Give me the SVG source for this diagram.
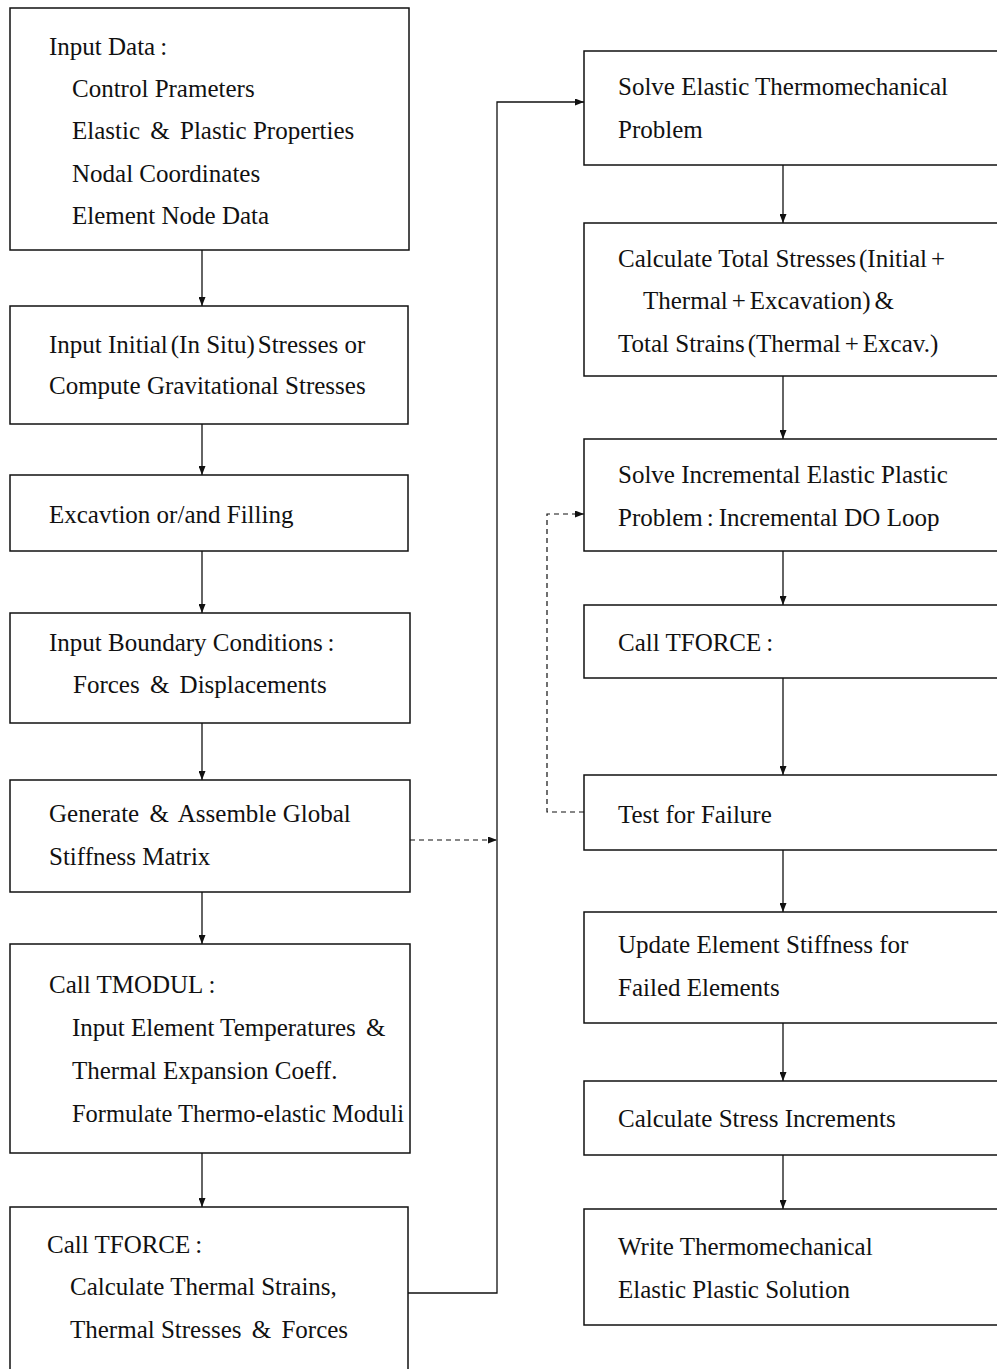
<svg xmlns="http://www.w3.org/2000/svg" width="997" height="1369" viewBox="0 0 997 1369">
<style>
.box{fill:#fff;stroke:#111;stroke-width:1.5}
.t{font-family:"Liberation Serif",serif;font-size:25px;fill:#111}
.c{fill:none;stroke:#111;stroke-width:1.3}
.d{fill:none;stroke:#111;stroke-width:1.2;stroke-dasharray:5,4}
</style>
<defs>
<marker id="ah" markerUnits="userSpaceOnUse" markerWidth="9" markerHeight="7" refX="9" refY="3.5" orient="auto">
<path d="M0,0 L9,3.5 L0,7 z" fill="#111"/>
</marker>
</defs>
<rect width="997" height="1369" fill="#fff"/>
<g id="connectors">
<line class="c" x1="202" y1="250" x2="202" y2="306" marker-end="url(#ah)"/>
<line class="c" x1="202" y1="424" x2="202" y2="475" marker-end="url(#ah)"/>
<line class="c" x1="202" y1="551" x2="202" y2="613" marker-end="url(#ah)"/>
<line class="c" x1="202" y1="723" x2="202" y2="780" marker-end="url(#ah)"/>
<line class="c" x1="202" y1="892" x2="202" y2="944" marker-end="url(#ah)"/>
<line class="c" x1="202" y1="1153" x2="202" y2="1207" marker-end="url(#ah)"/>
<polyline class="c" points="408,1293 497,1293 497,102 584,102" marker-end="url(#ah)"/>
<line class="d" x1="410" y1="840" x2="497" y2="840" marker-end="url(#ah)"/>
<line class="c" x1="783" y1="165" x2="783" y2="223" marker-end="url(#ah)"/>
<line class="c" x1="783" y1="376" x2="783" y2="439" marker-end="url(#ah)"/>
<line class="c" x1="783" y1="551" x2="783" y2="605" marker-end="url(#ah)"/>
<line class="c" x1="783" y1="678" x2="783" y2="775" marker-end="url(#ah)"/>
<line class="c" x1="783" y1="850" x2="783" y2="912" marker-end="url(#ah)"/>
<line class="c" x1="783" y1="1023" x2="783" y2="1081" marker-end="url(#ah)"/>
<line class="c" x1="783" y1="1155" x2="783" y2="1209" marker-end="url(#ah)"/>
<polyline class="d" points="584,812 547,812 547,514 584,514" marker-end="url(#ah)"/>
</g>
<g id="n1"><rect class="box" x="10" y="8" width="399" height="242"/>
<text class="t" x="49" y="55">Input Data<tspan dx="5">:</tspan></text>
<text class="t" x="72" y="97">Control Prameters</text>
<text class="t" x="72" y="139">Elastic <tspan dx="4">&amp;</tspan><tspan dx="4"> Plastic Properties</tspan></text>
<text class="t" x="72" y="182">Nodal Coordinates</text>
<text class="t" x="72" y="224">Element Node Data</text></g>
<g id="n2"><rect class="box" x="10" y="306" width="398" height="118"/>
<text class="t" x="49" y="353">Input Initial<tspan dx="3">(In Situ)</tspan><tspan dx="3">Stresses or</tspan></text>
<text class="t" x="49" y="394">Compute Gravitational Stresses</text></g>
<g id="n3"><rect class="box" x="10" y="475" width="398" height="76"/>
<text class="t" x="49" y="523">Excavtion or/and Filling</text></g>
<g id="n4"><rect class="box" x="10" y="613" width="400" height="110"/>
<text class="t" x="49" y="651">Input Boundary Conditions<tspan dx="5">:</tspan></text>
<text class="t" x="73" y="693">Forces <tspan dx="4">&amp;</tspan><tspan dx="4"> Displacements</tspan></text></g>
<g id="n5"><rect class="box" x="10" y="780" width="400" height="112"/>
<text class="t" x="49" y="822">Generate <tspan dx="4">&amp;</tspan><tspan dx="4"> Assemble Global</tspan></text>
<text class="t" x="49" y="865">Stiffness Matrix</text></g>
<g id="n6"><rect class="box" x="10" y="944" width="400" height="209"/>
<text class="t" x="49" y="993">Call TMODUL<tspan dx="5">:</tspan></text>
<text class="t" x="72" y="1036">Input Element Temperatures <tspan dx="4">&amp;</tspan></text>
<text class="t" x="72" y="1079">Thermal Expansion Coeff.</text>
<text class="t" x="72" y="1122" textLength="332" lengthAdjust="spacingAndGlyphs">Formulate Thermo-elastic Moduli</text></g>
<g id="n7"><rect class="box" x="10" y="1207" width="398" height="175"/>
<text class="t" x="47" y="1253">Call TFORCE<tspan dx="5">:</tspan></text>
<text class="t" x="70" y="1295">Calculate Thermal Strains,</text>
<text class="t" x="70" y="1338">Thermal Stresses <tspan dx="4">&amp;</tspan><tspan dx="4"> Forces</tspan></text></g>
<g id="r1"><rect class="box" x="584" y="51" width="430" height="114"/>
<text class="t" x="618" y="95">Solve Elastic Thermomechanical</text>
<text class="t" x="618" y="138">Problem</text></g>
<g id="r2"><rect class="box" x="584" y="223" width="430" height="153"/>
<text class="t" x="618" y="267">Calculate Total Stresses<tspan dx="3">(Initial</tspan><tspan dx="4">+</tspan></text>
<text class="t" x="643" y="309">Thermal<tspan dx="4">+</tspan><tspan dx="4">Excavation)</tspan><tspan dx="4">&amp;</tspan></text>
<text class="t" x="618" y="352">Total Strains<tspan dx="3">(Thermal</tspan><tspan dx="4">+</tspan><tspan dx="4">Excav.)</tspan></text></g>
<g id="r3"><rect class="box" x="584" y="439" width="430" height="112"/>
<text class="t" x="618" y="483">Solve Incremental Elastic Plastic</text>
<text class="t" x="618" y="526">Problem<tspan dx="4">:</tspan><tspan dx="5">Incremental DO Loop</tspan></text></g>
<g id="r4"><rect class="box" x="584" y="605" width="430" height="73"/>
<text class="t" x="618" y="651">Call TFORCE<tspan dx="5">:</tspan></text></g>
<g id="r5"><rect class="box" x="584" y="775" width="430" height="75"/>
<text class="t" x="618" y="823">Test for Failure</text></g>
<g id="r6"><rect class="box" x="584" y="912" width="430" height="111"/>
<text class="t" x="618" y="953">Update Element Stiffness for</text>
<text class="t" x="618" y="996">Failed Elements</text></g>
<g id="r7"><rect class="box" x="584" y="1081" width="430" height="74"/>
<text class="t" x="618" y="1127">Calculate Stress Increments</text></g>
<g id="r8"><rect class="box" x="584" y="1209" width="430" height="116"/>
<text class="t" x="618" y="1255">Write Thermomechanical</text>
<text class="t" x="618" y="1298">Elastic Plastic Solution</text></g>
</svg>
